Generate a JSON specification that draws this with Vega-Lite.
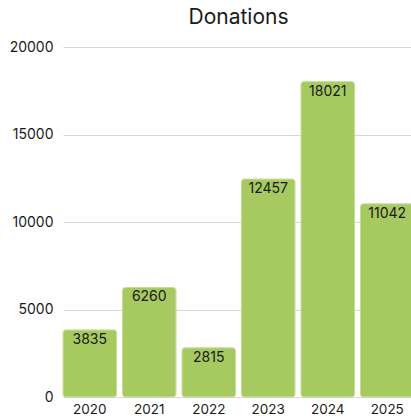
{
  "$schema": "https://vega.github.io/schema/vega-lite/v6.json",
  "autosize": "none",
  "padding": {"left": 63, "top": 47, "right": 0, "bottom": 23},
  "width": 351,
  "height": 350,
  "background": "white",
  "title": {"text": "Donations", "fontSize": 21, "font": "Inter", "fontWeight": "normal", "color": "#1a1a1a", "anchor": "middle", "offset": 12},
  "data": {"values": [
    {"year": "2020", "amount": 3835},
    {"year": "2021", "amount": 6260},
    {"year": "2022", "amount": 2815},
    {"year": "2023", "amount": 12457},
    {"year": "2024", "amount": 18021},
    {"year": "2025", "amount": 11042}
  ]},
  "config": {"view": {"stroke": null}, "font": "Inter"},
  "encoding": {
    "x": {"field": "year", "type": "ordinal", "sort": null,
      "scale": {"paddingInner": 0.1, "paddingOuter": 0},
      "axis": {"title": null, "labelAngle": 0, "domain": false, "ticks": false, "labelFontSize": 13.5, "labelColor": "#1a1a1a", "labelPadding": 5}},
    "y": {"field": "amount", "type": "quantitative",
      "scale": {"domain": [0, 20000], "nice": false},
      "axis": {"title": null, "values": [0, 5000, 10000, 15000, 20000], "domain": false, "ticks": false, "labelFontSize": 14, "labelColor": "#1a1a1a", "labelPadding": 10, "gridColor": "#d9d9d9", "format": "d"}}
  },
  "layer": [
    {"mark": {"type": "bar", "color": "#a6c960", "cornerRadius": 3, "stroke": "#c5dc97", "strokeWidth": 1}},
    {"mark": {"type": "text", "baseline": "top", "dy": 3, "fontSize": 14, "color": "#1a1a1a"},
     "encoding": {"text": {"field": "amount", "type": "quantitative", "format": "d"}}}
  ]
}
